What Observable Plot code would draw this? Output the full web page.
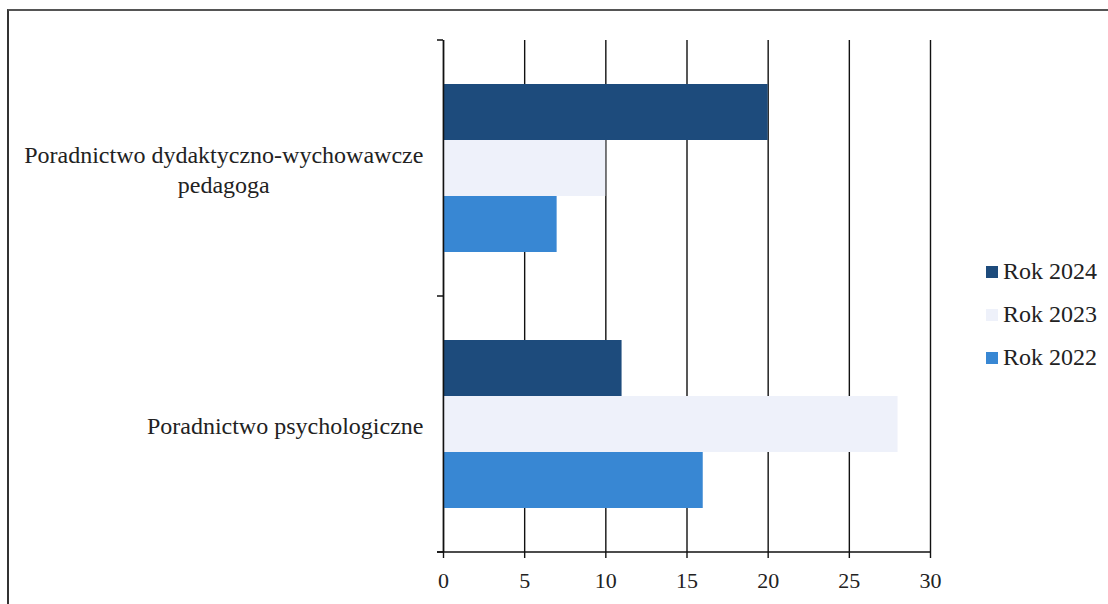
<!DOCTYPE html>
<html>
<head>
<meta charset="utf-8">
<script src="https://cdn.jsdelivr.net/npm/d3@7"></script>
<script src="https://cdn.jsdelivr.net/npm/@observablehq/plot@0.6"></script>
<style>
  html, body { margin: 0; padding: 0; background: #fff; }
  #wrap { position: relative; width: 1108px; height: 604px; overflow: hidden; background: #fff; }
  #border { position: absolute; left: 7px; top: 9px; width: 1110px; height: 600px;
            border-left: 2px solid #333; border-top: 2px solid #555; }
  #chart { position: absolute; left: 0; top: 0; }
  #legend { position: absolute; left: 986px; top: 250px; font-family: "Liberation Serif", serif;
            font-size: 24px; color: #222; }
  .item { display: flex; align-items: center; height: 43px; }
  .sw { width: 12px; height: 12px; margin-right: 5px; }
</style>
</head>
<body>
<div id="wrap">
  <div id="border"></div>
  <div id="chart"></div>
  <div id="legend"></div>
</div>
<script>
// ---- data ----
const categories = ["dydaktyczno", "psychologiczne"];
const categoryLabels = ["Poradnictwo dydaktyczno-wychowawcze\npedagoga", "Poradnictwo psychologiczne"];
const years = ["Rok 2024", "Rok 2023", "Rok 2022"];
const values2024 = [20, 11];
const values2023 = [10, 28];
const values2022 = [7, 16];
const yearColors = ["#1d4b7c", "#eef1fa", "#3887d3"];
const xTicks = [0, 5, 10, 15, 20, 25, 30];

const series = [values2024, values2023, values2022];
const rows = [];
categories.forEach((c, i) => {
  years.forEach((yr, j) => rows.push({cat: c, year: yr, value: series[j][i]}));
});
const labelOf = Object.fromEntries(categories.map((c, i) => [c, categoryLabels[i]]));

const plot = Plot.plot({
  width: 1108,
  height: 604,
  marginLeft: 443,
  marginRight: 178,
  marginTop: 40,
  marginBottom: 52,
  style: {fontFamily: "Liberation Serif, serif", fontSize: "22px", color: "#222", background: "transparent", overflow: "visible"},
  x: {domain: [0, 30], ticks: xTicks, label: null},
  y: {domain: years, paddingInner: 0, paddingOuter: 0.77, axis: null},
  fy: {domain: categories, padding: 0, axis: null, label: null},
  color: {domain: years, range: yearColors},
  marks: [
    Plot.gridX({ticks: xTicks, stroke: "#111", strokeOpacity: 1, strokeWidth: 1.4}),
    Plot.barX(rows, {fy: "cat", y: "year", x: "value", fill: "year"}),
    Plot.ruleX([0], {stroke: "#111", strokeWidth: 1.5}),
    Plot.axisX({ticks: xTicks, tickSize: 6, tickPadding: 14, stroke: "#111", strokeWidth: 1.4, fontSize: 22, label: null, tickFormat: d => String(d)}),
    Plot.axisFy({anchor: "left", tickSize: 0, tickPadding: 20, fontSize: 24, lineHeight: 1.25, tickFormat: d => labelOf[d], label: null})
  ]
});
document.getElementById("chart").appendChild(plot);

// center multi-line category labels (Excel style)
d3.select(plot).selectAll("text").each(function() {
  const tspans = this.querySelectorAll("tspan");
  if (tspans.length > 1) {
    const w = this.getBBox().width;
    this.setAttribute("text-anchor", "middle");
    tspans.forEach(t => t.setAttribute("x", -w / 2));
  }
});

// axis line + category boundary ticks, from the plot's own scales
try {
  const fy = plot.scale("fy");
  const x = plot.scale("x");
  const x0 = x.apply(0), x1 = x.apply(30);
  const r0 = Math.min(...fy.range);
  const step = fy.step || fy.bandwidth;
  const bounds = d3.range(categories.length + 1).map(i => r0 + i * step);
  const g = d3.select(plot).append("g").attr("stroke", "#111").attr("stroke-width", 1.5);
  const yb = bounds[bounds.length - 1];
  g.append("line").attr("x1", x0 - 6).attr("x2", x1).attr("y1", yb).attr("y2", yb);
  bounds.forEach(b => g.append("line").attr("x1", x0 - 6).attr("x2", x0).attr("y1", b).attr("y2", b));
} catch (e) { console.error(e); }

// legend
const legend = d3.select("#legend");
years.forEach((yr, i) => {
  const it = legend.append("div").attr("class", "item");
  it.append("div").attr("class", "sw").style("background", yearColors[i]);
  it.append("span").text(yr);
});
</script>
</body>
</html>
